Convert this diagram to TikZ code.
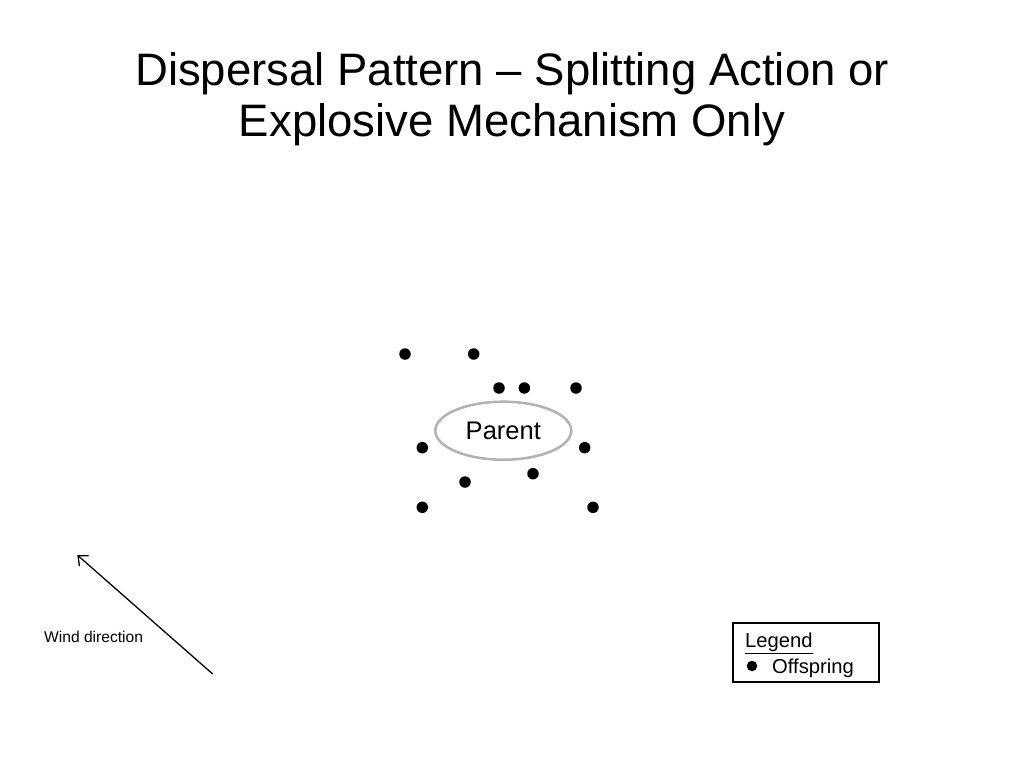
\documentclass[tikz,border=0pt]{standalone}
\usepackage{fontspec}
\setmainfont{Liberation Sans}
\usetikzlibrary{shapes.geometric,arrows.meta}
\begin{document}
\begin{tikzpicture}[x=1pt,y=-1pt,
  offspring/.style={circle,fill=black,inner sep=0pt,minimum size=11.5pt},
  parentnode/.style={ellipse,draw=black!30,line width=2.5pt,minimum width=136pt,minimum height=58pt,inner sep=0pt,font=\fontsize{25.5}{30}\selectfont},
  titletext/.style={anchor=base,font=\fontsize{45.5}{52}\selectfont},
  legendbox/.style={draw=black,line width=2.2pt,minimum width=146pt,minimum height=59pt,inner sep=0pt},
  legendtext/.style={anchor=base west,inner sep=0pt,font=\fontsize{20.2}{24}\selectfont},
  windtext/.style={anchor=base west,inner sep=0pt,font=\fontsize{15.6}{18}\selectfont}
]
\useasboundingbox[fill=white] (0,0) rectangle (1024,768);
\node[titletext] (t1) at (512,85) {Dispersal Pattern -- Splitting Action or};
\node[titletext] (t2) at (512,136) {Explosive Mechanism Only};

\node[parentnode] (parent) at (503.3,430.7) {Parent};

\node[offspring] (o1) at (405,354) {};
\node[offspring] (o2) at (473.7,354) {};
\node[offspring] (o3) at (499,388) {};
\node[offspring] (o4) at (524.3,388) {};
\node[offspring] (o5) at (576,388) {};
\node[offspring] (o6) at (422.3,447.7) {};
\node[offspring] (o7) at (584.7,447.7) {};
\node[offspring] (o8) at (533,473.7) {};
\node[offspring] (o9) at (465,482) {};
\node[offspring] (o10) at (422.3,507.3) {};
\node[offspring] (o11) at (593,507.3) {};

\coordinate (wstart) at (212.7,674);
\coordinate (wend) at (77.3,555);
\draw[line width=1.3pt,-{Straight Barb[length=8pt,width=14pt,line width=1.3pt]}] (wstart) -- (wend);
\node[windtext] (wind) at (44,642) {Wind direction};

\node[legendbox] (legend) at (806.3,652.2) {};
\node[legendtext] (legtitle) at (745,647.5) {\underline{Legend}};
\node[offspring,minimum size=10.5pt] (legdot) at (752,666) {};
\node[legendtext] (legoff) at (772,673) {Offspring};
\end{tikzpicture}
\end{document}
